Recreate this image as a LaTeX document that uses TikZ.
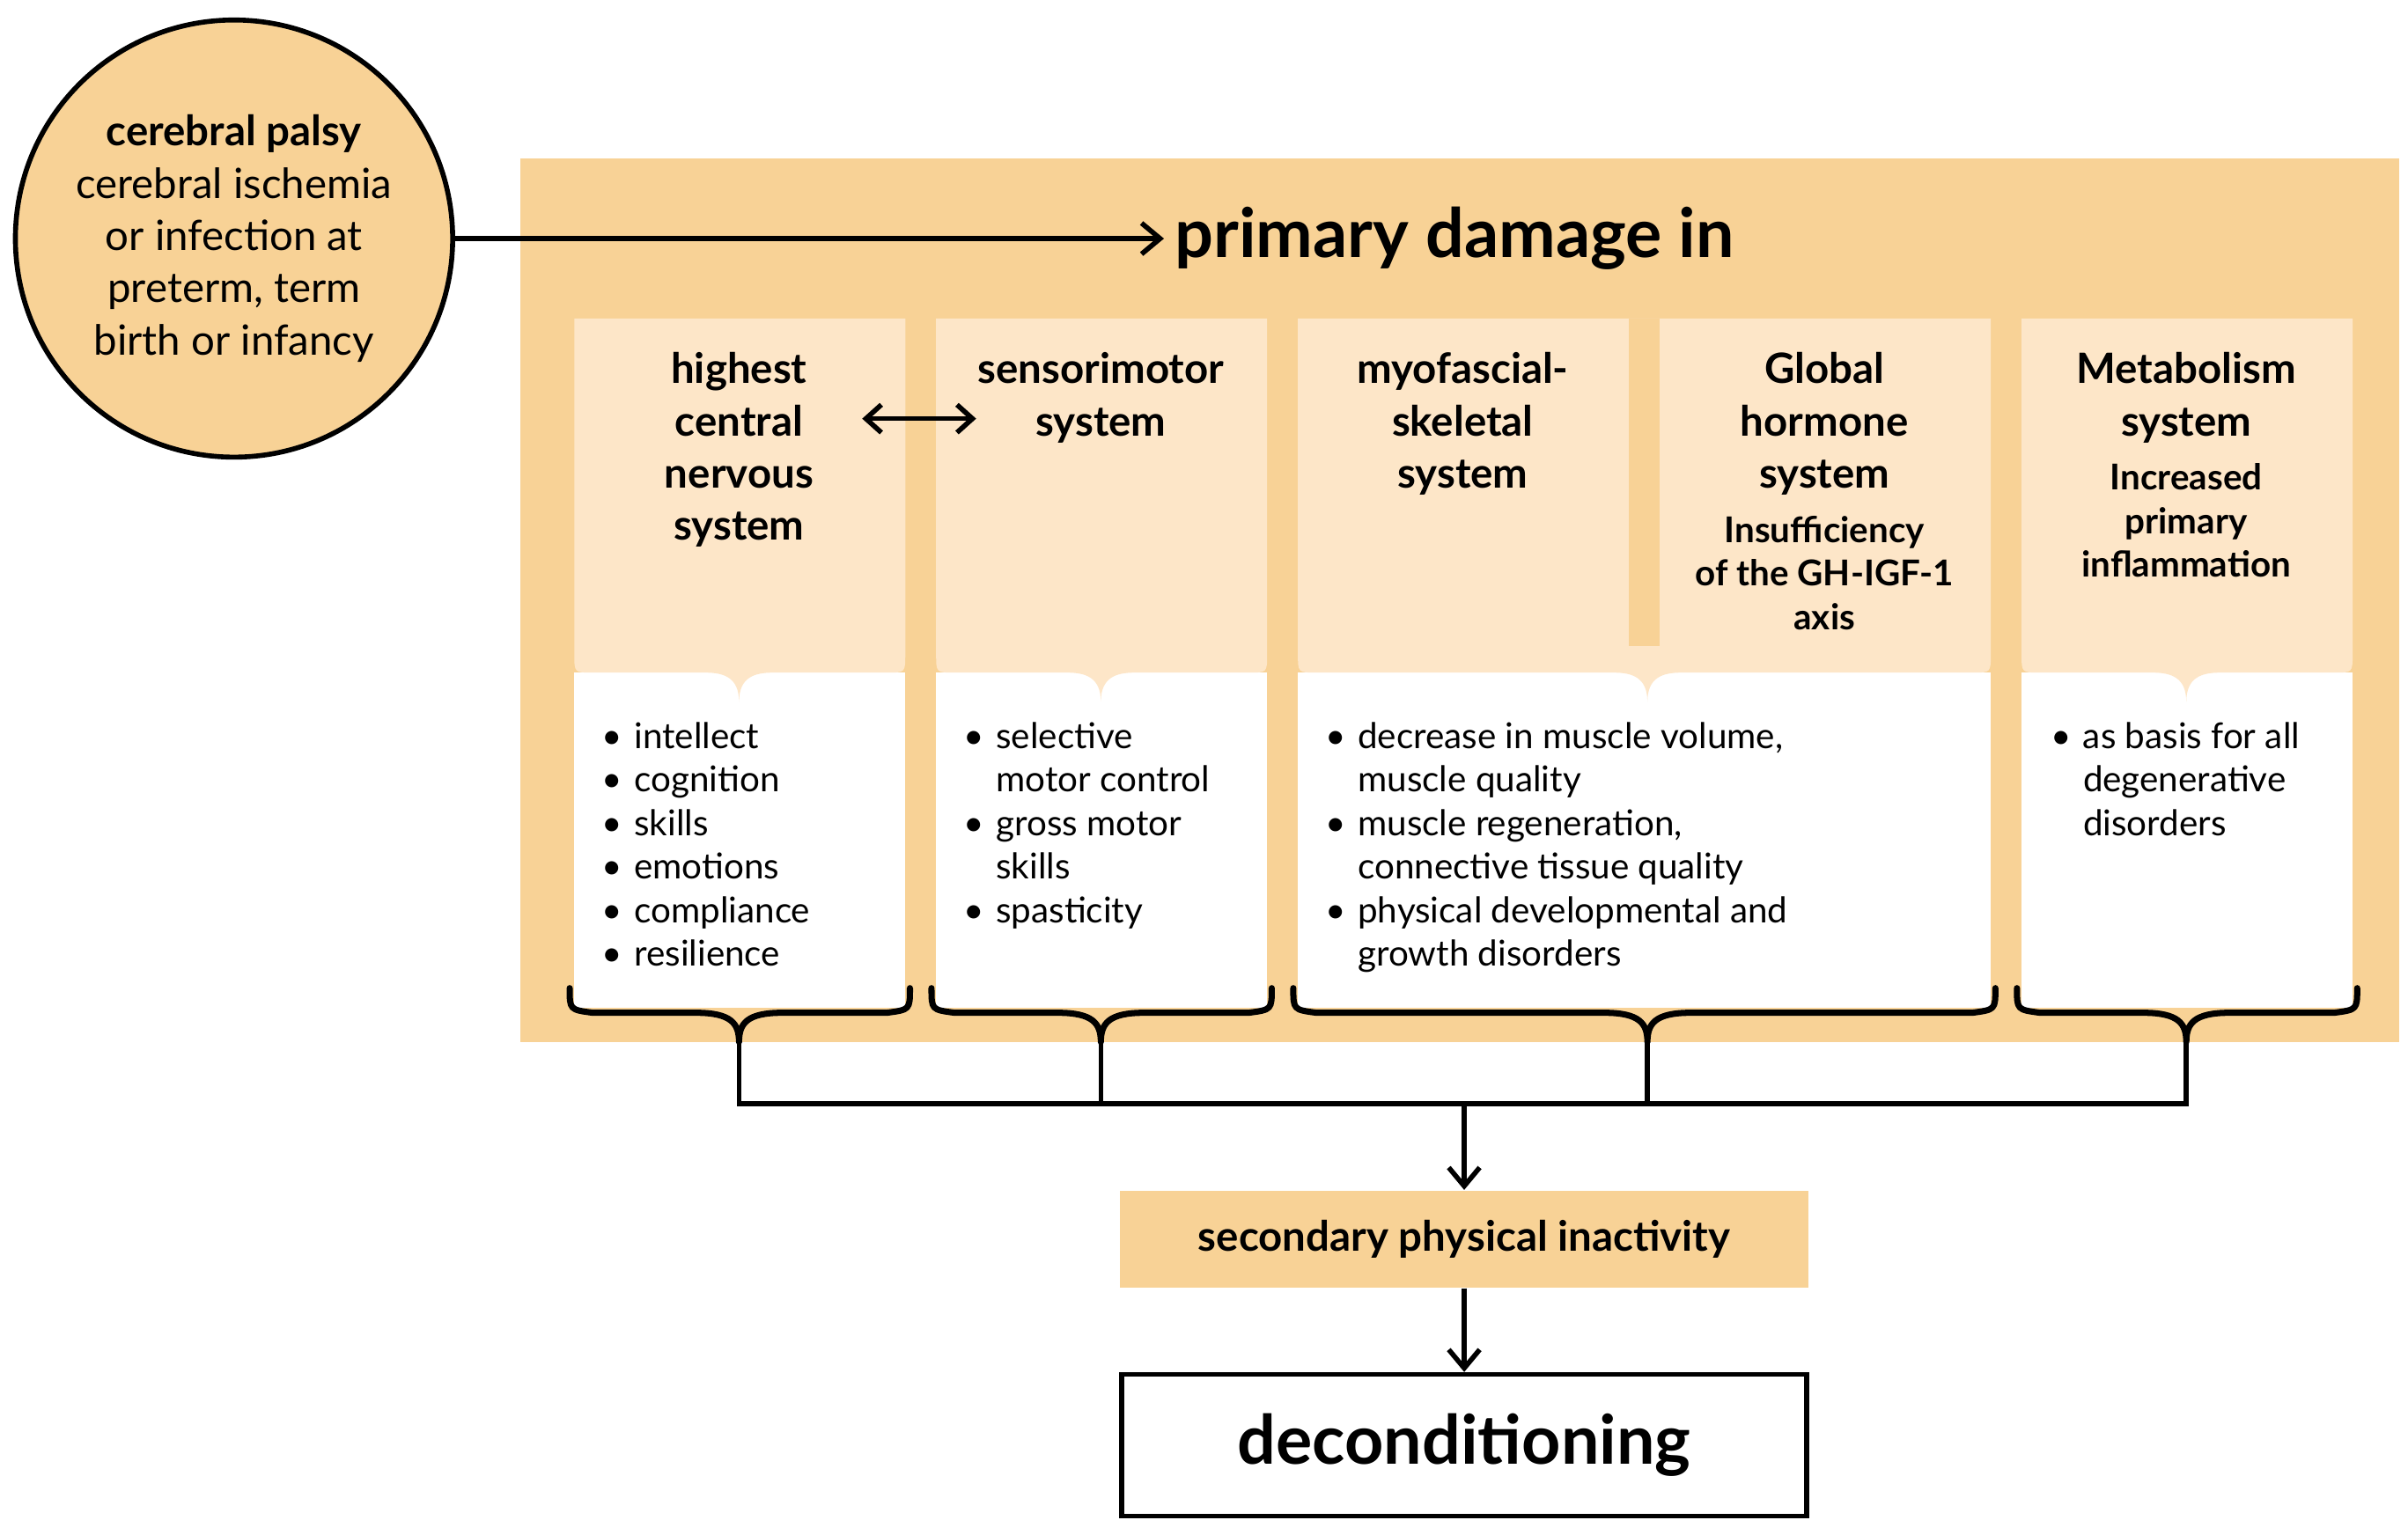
\documentclass[tikz,border=0pt]{standalone}
\usepackage{fontspec}
\setmainfont{Lato}
\usetikzlibrary{arrows.meta}
\definecolor{org}{HTML}{F8D296}
\definecolor{lite}{HTML}{FDE6C8}
\tikzset{
 ttl/.style={font=\bfseries\fontsize{13.5}{16.9}\selectfont,align=center,anchor=north},
 sub/.style={font=\bfseries\fontsize{11.5}{14.1}\selectfont,align=center,anchor=north},
 lst/.style={font=\fontsize{11.5}{14.1}\selectfont,align=left,anchor=north west},
 brace/.style={line width=2pt,line cap=round,line join=round},
 ln/.style={line width=1.6pt},
 arr/.style={line width=1.6pt,-{Straight Barb[length=6pt,width=10pt]}},
}
\newcommand{\bu}{\makebox[10.4pt][l]{\textbullet}}
\newcommand{\ind}{\hspace*{10.4pt}}
\newcommand{\lightcol}[3]{% x1 x2 cx
 \fill[white] (#1,437) rectangle (#2,655);
 \fill[lite] (#1,207) -- (#1,425) .. controls (#1,437) .. (#1+12,437) -- (#3-22,437)
   .. controls (#3-10,437) and (#3,440) .. (#3,456) .. controls (#3,440) and (#3+10,437) .. (#3+22,437)
   -- (#2-12,437) .. controls (#2,437) .. (#2,425) -- (#2,207) -- cycle;}
\newcommand{\blackbrace}[3]{%
 \draw[brace] (#1-3,642) .. controls (#1-3,656) .. (#1+12,658) -- (#3-28,658)
   .. controls (#3-5,658) and (#3,665) .. (#3,677) .. controls (#3,665) and (#3+5,658) .. (#3+28,658)
   -- (#2-12,658) .. controls (#2+3,656) .. (#2+3,642);}
\begin{document}
\begin{tikzpicture}[x=0.0175cm,y=-0.0175cm]
\useasboundingbox (0,0) rectangle (1564,997);
\fill[white] (0,0) rectangle (1564,997);
\fill[org] (338,103) rectangle (1558,677);
\lightcol{373}{588}{480}
\lightcol{608}{823}{715}
\lightcol{843}{1293}{1070}
\lightcol{1313}{1528}{1420}
\fill[org] (1058,207) rectangle (1078,420);
\blackbrace{373}{588}{480}
\blackbrace{608}{823}{715}
\blackbrace{843}{1293}{1070}
\blackbrace{1313}{1528}{1420}

\node[circle,draw,line width=1.6pt,fill=org,minimum size=284*0.0175cm,inner sep=0pt,
 font=\fontsize{13.5}{16.9}\selectfont,align=center] (cp) at (152,155)
 {\textbf{cerebral palsy}\\cerebral ischemia\\or infection at\\preterm, term\\birth or infancy};
\node[font=\bfseries\fontsize{22}{26}\selectfont,anchor=west] (pd) at (756,155) {primary damage in};
\draw[arr] (cp.east) -- (pd.west);

\node[ttl] (c1) at (480,222) {highest\\central\\nervous\\system};
\node[ttl] (c2) at (715,222) {sensorimotor\\system};
\node[ttl] (c3) at (950,222) {myofascial-\\skeletal\\system};
\node[ttl] (c4) at (1185,222) {Global\\hormone\\system};
\node[sub] (c4s) at (1185,328) {Insufficiency\\of the GH-IGF-1\\axis};
\node[ttl] (c5) at (1420,222) {Metabolism\\system};
\node[sub] (c5s) at (1420,294) {Increased\\primary\\inflammation};
\coordinate (da) at (560,272); \coordinate (db) at (634,272);
\draw[line width=1.6pt,{Straight Barb[length=5pt,width=9pt]}-{Straight Barb[length=5pt,width=9pt]}] (da) -- (db);

\node[lst] (l1) at (384,462) {\bu intellect\\\bu cognition\\\bu skills\\\bu emotions\\\bu compliance\\\bu resilience};
\node[lst] (l2) at (619,462) {\bu selective\\\ind motor control\\\bu gross motor\\\ind skills\\\bu spasticity};
\node[lst] (l3) at (854,462) {\bu decrease in muscle volume,\\\ind muscle quality\\\bu muscle regeneration,\\\ind connective tissue quality\\\bu physical developmental and\\\ind growth disorders};
\node[lst] (l5) at (1325,462) {\bu as basis for all\\\ind degenerative\\\ind disorders};

\coordinate (t1) at (480,677); \coordinate (t2) at (715,677);
\coordinate (t3) at (1070,677); \coordinate (t4) at (1420,677);
\coordinate (h1) at (480,717); \coordinate (h2) at (715,717);
\coordinate (h3) at (1070,717); \coordinate (h4) at (1420,717);
\coordinate (hm) at (951,717);
\draw[ln] (t1) -- (h1) -- (h4) -- (t4);
\draw[ln] (t2) -- (h2); \draw[ln] (t3) -- (h3);

\node[fill=org,minimum width=447*0.0175cm,minimum height=63*0.0175cm,
 font=\bfseries\fontsize{13.5}{16}\selectfont] (sec) at (951,805) {secondary physical inactivity};
\node[draw,line width=1.6pt,fill=white,minimum width=445*0.0175cm,minimum height=92*0.0175cm,
 font=\bfseries\fontsize{22}{26}\selectfont] (dec) at (951,939) {deconditioning};
\draw[arr] (hm) -- (sec.north);
\draw[arr] (sec.south) -- (dec.north);
\end{tikzpicture}
\end{document}
